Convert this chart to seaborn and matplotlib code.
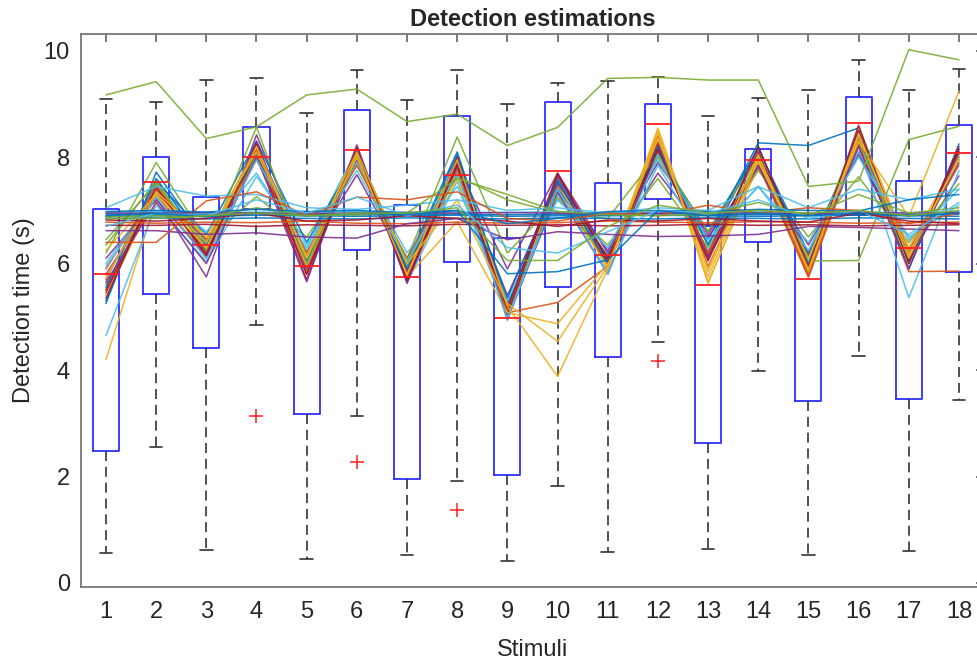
"""
Detection time per stimulus: boxplot with individual subject traces.
"""
import numpy as np
import pandas as pd
import matplotlib
matplotlib.use("Agg")
import matplotlib.pyplot as plt
import seaborn as sns

# ---- box statistics per stimulus ----
stimuli = list(range(1, 19))
box_q1 = [2.48, 5.43, 4.42, 7.03, 3.17, 6.25, 1.95, 6.03, 2.02, 5.57, 4.24, 7.21, 2.63, 6.40, 3.42, 6.92, 3.46, 5.85]
box_median = [5.80, 7.54, 6.35, 8.01, 5.96, 8.13, 5.75, 7.67, 4.98, 7.75, 6.16, 8.62, 5.60, 7.95, 5.72, 8.65, 6.30, 8.08]
box_q3 = [7.02, 8.01, 7.26, 8.56, 6.97, 8.88, 7.10, 8.78, 6.48, 9.04, 7.51, 9.00, 6.71, 8.16, 6.92, 9.13, 7.56, 8.60]
whisker_low = [0.56, 2.56, 0.61, 4.85, 0.45, 3.13, 0.52, 1.92, 0.41, 1.83, 0.58, 4.52, 0.64, 3.98, 0.53, 4.27, 0.60, 3.43]
whisker_high = [9.09, 9.04, 9.45, 9.49, 8.83, 9.63, 9.07, 9.63, 9.00, 9.40, 9.44, 9.50, 8.77, 9.12, 9.27, 9.83, 9.27, 9.66]
outliers = {4: [3.13], 6: [2.27], 8: [1.37], 12: [4.17]}

# ---- subject traces (detection time per stimulus) ----
p01 = [5.25, 7.72, 6.40, 8.20, 6.20, 8.10, 6.00, 8.05, 5.20, 7.60, 6.10, 8.10, 6.45, 8.27, 8.22, 8.55, 6.05, 8.15]
p02 = [5.60, 7.30, 6.10, 8.00, 5.85, 7.95, 5.75, 7.70, 5.05, 7.45, 6.05, 8.30, 6.10, 7.90, 5.75, 8.35, 6.20, 7.85]
p03 = [4.20, 7.20, 6.20, 8.05, 6.05, 7.95, 5.80, 7.75, 5.15, 7.35, 5.95, 8.45, 5.65, 7.85, 6.20, 8.40, 6.15, 8.00]
p04 = [5.80, 7.25, 5.75, 8.42, 6.15, 7.67, 5.95, 7.85, 5.90, 7.70, 6.20, 7.70, 6.50, 7.80, 6.35, 8.05, 6.10, 7.65]
p05 = [6.20, 7.90, 6.45, 7.26, 6.50, 7.85, 6.10, 8.38, 6.20, 7.20, 6.35, 7.60, 6.30, 7.75, 6.50, 7.63, 6.40, 7.50]
p06 = [4.65, 7.10, 6.04, 7.64, 6.30, 8.15, 5.65, 7.55, 5.00, 7.30, 5.85, 7.85, 6.25, 8.05, 5.95, 8.20, 5.36, 7.75]
p07 = [5.45, 7.35, 6.25, 8.15, 5.95, 8.05, 5.85, 7.95, 5.10, 7.55, 6.00, 8.25, 6.15, 7.95, 5.90, 8.45, 6.05, 8.10]
p08 = [5.30, 7.55, 6.55, 8.30, 6.40, 8.00, 6.05, 8.10, 5.25, 7.40, 6.15, 8.05, 6.60, 8.15, 6.20, 8.40, 5.90, 8.25]
p09 = [5.70, 7.50, 6.30, 8.15, 5.80, 8.10, 5.90, 7.90, 5.15, 7.35, 6.00, 8.40, 5.95, 7.95, 5.80, 8.45, 6.25, 7.95]
p10 = [5.50, 7.45, 6.35, 8.25, 6.00, 8.20, 5.70, 7.60, 5.10, 7.50, 5.90, 8.55, 5.85, 8.00, 6.00, 8.55, 6.30, 8.05]
p11 = [6.10, 7.20, 6.15, 8.30, 5.90, 7.95, 5.85, 7.80, 5.40, 7.50, 6.25, 7.90, 6.55, 8.05, 6.15, 8.10, 6.20, 7.90]
p12 = [6.45, 7.50, 6.30, 8.05, 6.10, 8.10, 5.95, 7.95, 5.15, 7.25, 6.10, 8.00, 6.35, 7.90, 6.10, 8.30, 6.00, 8.05]
p13 = [6.00, 7.35, 6.60, 7.70, 6.25, 7.90, 6.20, 7.45, 5.30, 7.20, 6.30, 7.95, 6.40, 7.45, 6.25, 8.10, 6.45, 7.40]
p14 = [5.50, 7.40, 6.20, 8.10, 5.70, 8.20, 5.65, 8.00, 5.05, 7.65, 6.10, 8.20, 6.20, 8.10, 5.85, 8.60, 6.00, 8.20]
p15 = [5.55, 7.60, 6.35, 8.10, 6.05, 8.05, 5.90, 7.90, 5.35, 7.55, 6.00, 8.20, 6.35, 8.20, 6.00, 8.50, 6.05, 8.00]
p16 = [5.90, 7.40, 6.45, 7.95, 6.20, 7.85, 6.10, 7.75, 5.08, 5.27, 5.95, 8.10, 6.20, 7.85, 5.75, 8.25, 5.85, 5.86]
p17 = [5.40, 7.30, 6.40, 8.20, 5.95, 8.05, 5.75, 6.79, 5.08, 4.87, 6.00, 8.50, 5.63, 7.90, 6.10, 8.30, 6.88, 9.24]
p18 = [5.65, 7.15, 6.00, 8.00, 5.66, 8.23, 5.63, 7.90, 4.94, 7.35, 5.80, 8.15, 6.10, 7.85, 5.95, 8.20, 5.90, 8.10]
p19 = [6.35, 7.55, 6.25, 8.57, 6.00, 8.00, 6.05, 7.64, 7.20, 6.95, 6.85, 8.05, 6.60, 8.00, 6.05, 6.06, 8.33, 8.58]
p20 = [5.95, 7.25, 6.10, 7.95, 6.35, 7.75, 6.05, 7.70, 4.95, 7.40, 5.80, 8.05, 6.45, 7.45, 6.40, 8.00, 6.50, 7.10]
p21 = [5.35, 7.45, 6.15, 8.25, 5.80, 8.15, 5.70, 7.85, 5.15, 7.70, 6.05, 8.15, 6.05, 8.20, 5.95, 8.50, 6.05, 8.15]
p22 = [5.75, 7.35, 6.50, 8.10, 6.15, 8.10, 6.00, 7.20, 5.25, 4.54, 5.95, 8.35, 5.90, 8.05, 5.85, 8.40, 6.20, 7.95]
p23 = [6.25, 7.30, 6.30, 8.20, 6.10, 8.00, 5.80, 7.95, 5.20, 3.88, 5.90, 8.45, 5.75, 7.95, 5.90, 8.45, 6.10, 8.00]
p24 = [6.93, 6.92, 6.93, 6.94, 6.93, 6.92, 6.93, 6.93, 6.92, 6.93, 6.93, 6.94, 6.93, 6.92, 6.93, 6.93, 6.92, 6.93]
p25 = [6.89, 6.90, 6.89, 6.91, 6.90, 6.89, 6.90, 6.91, 6.89, 6.90, 6.90, 6.91, 6.90, 6.89, 6.90, 6.91, 6.90, 6.89]
p26 = [6.96, 6.98, 6.95, 6.97, 6.96, 6.98, 6.95, 6.97, 6.96, 6.98, 6.95, 6.97, 6.96, 6.98, 6.95, 6.97, 6.96, 6.98]
p27 = [6.95, 6.95, 6.96, 6.95, 6.94, 6.95, 6.96, 6.95, 6.96, 6.95, 6.94, 6.95, 6.96, 6.95, 6.94, 6.96, 6.95, 6.96]
p28 = [6.78, 6.76, 6.78, 6.77, 6.80, 6.76, 6.75, 6.78, 6.76, 6.77, 6.80, 6.78, 6.77, 6.79, 6.78, 6.76, 6.77, 6.78]
p29 = [6.72, 6.72, 6.74, 6.70, 6.73, 6.72, 6.71, 6.74, 6.72, 6.73, 6.71, 6.72, 6.74, 6.72, 6.73, 6.71, 6.72, 6.73]
p30 = [6.62, 6.62, 6.55, 6.58, 6.50, 6.48, 6.75, 6.85, 6.45, 6.60, 6.55, 6.51, 6.52, 6.55, 6.70, 6.68, 6.65, 6.62]
p31 = [7.05, 7.45, 7.27, 7.30, 7.05, 7.02, 7.10, 7.20, 7.00, 7.05, 6.95, 7.05, 7.00, 7.45, 7.05, 7.40, 7.20, 7.40]
p32 = [6.85, 6.86, 6.84, 6.86, 6.85, 6.84, 6.86, 6.85, 6.84, 6.86, 6.85, 6.84, 6.86, 6.85, 6.84, 6.86, 6.85, 6.84]
p33 = [6.40, 6.40, 7.18, 7.35, 6.90, 7.25, 7.20, 7.35, 6.85, 6.80, 6.95, 6.90, 7.10, 6.95, 7.05, 7.00, 6.75, 6.95]
p34 = [6.82, 6.80, 6.85, 6.95, 6.80, 6.82, 6.90, 6.85, 6.80, 6.70, 6.82, 6.80, 6.85, 6.80, 6.78, 6.95, 6.80, 6.75]
p35 = [6.88, 6.90, 6.88, 7.05, 6.90, 6.92, 6.95, 7.60, 7.30, 6.98, 6.92, 6.90, 6.93, 7.15, 6.90, 7.30, 6.95, 7.05]
p36 = [6.98, 7.00, 6.97, 7.02, 6.98, 7.00, 6.96, 7.00, 6.75, 6.85, 6.98, 7.00, 6.98, 7.02, 7.00, 6.99, 7.20, 7.30]
p37 = [6.70, 6.95, 6.90, 7.20, 6.95, 7.25, 6.90, 7.10, 6.30, 6.20, 6.60, 7.00, 6.95, 7.20, 6.85, 7.00, 6.55, 7.15]
p38 = [9.17, 9.42, 8.35, 8.57, 9.17, 9.28, 8.67, 8.81, 8.22, 8.56, 9.48, 9.50, 9.45, 9.45, 7.45, 7.55, 10.02, 9.83]
p39 = [6.90, 6.95, 6.88, 6.95, 6.90, 6.95, 6.92, 7.00, 5.81, 5.85, 6.07, 7.00, 6.90, 6.95, 6.90, 6.95, 6.90, 6.95]
p40 = [6.85, 6.85, 6.90, 6.95, 6.90, 6.95, 6.95, 7.05, 6.06, 6.06, 6.70, 7.10, 6.95, 7.00, 6.95, 7.00, 6.90, 7.00]

subjects = {
    "p01": p01, "p02": p02, "p03": p03, "p04": p04, "p05": p05,
    "p06": p06, "p07": p07, "p08": p08, "p09": p09, "p10": p10,
    "p11": p11, "p12": p12, "p13": p13, "p14": p14, "p15": p15,
    "p16": p16, "p17": p17, "p18": p18, "p19": p19, "p20": p20,
    "p21": p21, "p22": p22, "p23": p23, "p24": p24, "p25": p25,
    "p26": p26, "p27": p27, "p28": p28, "p29": p29, "p30": p30,
    "p31": p31, "p32": p32, "p33": p33, "p34": p34, "p35": p35,
    "p36": p36, "p37": p37, "p38": p38, "p39": p39, "p40": p40,
}

# MATLAB default line colours
B, O, Y, P, G, L, R = "#0072BD", "#D95319", "#EDB120", "#7E2F8E", "#77AC30", "#4DBEEE", "#A2142F"
line_colors = [B, O, Y, P, G, L, R, B, O, Y, P, G, L, R, B, O, Y, P, G, L,
               R, Y, Y, B, B, L, P, O, R, P, L, B, O, R, G, B, L, G, B, G]

# long-form table for seaborn
df = pd.DataFrame([
    {"subject": name, "stimulus": s, "time": v}
    for name, vals in subjects.items()
    for s, v in zip(stimuli, vals)
])
palette = dict(zip(subjects.keys(), line_colors))

# ---- styling ----
sns.set_style("white")
plt.rcParams["font.family"] = ["Liberation Sans", "DejaVu Sans"]
plt.rcParams["font.size"] = 17

fig = plt.figure(figsize=(9.78, 6.63), dpi=100)
ax = fig.add_axes([0.0827, 0.1151, 0.9235, 0.8332])

# boxes from the summary statistics
stats = []
for i, s in enumerate(stimuli):
    stats.append({
        "med": box_median[i], "q1": box_q1[i], "q3": box_q3[i],
        "whislo": whisker_low[i], "whishi": whisker_high[i],
        "fliers": outliers.get(s, []),
    })
ax.bxp(stats, positions=stimuli, widths=0.52, capwidths=0.25, manage_ticks=False,
       boxprops=dict(color="#2f2fff", linewidth=1.3),
       medianprops=dict(color="#ff2020", linewidth=1.3),
       whiskerprops=dict(color="#333333", linewidth=1.2, linestyle=(0, (6, 3.5))),
       capprops=dict(color="#333333", linewidth=1.2),
       flierprops=dict(marker="+", markeredgecolor="#ff2020", markersize=10,
                       markeredgewidth=1.1, linestyle="none"))

sns.lineplot(data=df, x="stimulus", y="time", hue="subject", palette=palette,
             estimator=None, sort=False, legend=False, linewidth=1.1, alpha=0.9, ax=ax)

ax.set_xlim(0.5, 18.5)
ax.set_ylim(-0.07, 10.31)
ax.set_xticks(stimuli)
ax.set_yticks([0, 2, 4, 6, 8, 10])
ax.tick_params(direction="in", top=True, right=True, length=6, width=1.1,
               color="#555555", labelcolor="#262626", labelsize=17)
ax.tick_params(axis="x", pad=10)
ax.tick_params(axis="y", pad=8)
for sp in ax.spines.values():
    sp.set_color("#777777")
    sp.set_linewidth(1.3)

ax.set_title("Detection estimations", fontsize=17, fontweight="bold", pad=6)
ax.set_xlabel("Stimuli", fontsize=17, color="#262626", labelpad=12)
ax.set_ylabel("Detection time (s)", fontsize=17, color="#262626", labelpad=6)

fig.savefig("out.png", dpi=100)
